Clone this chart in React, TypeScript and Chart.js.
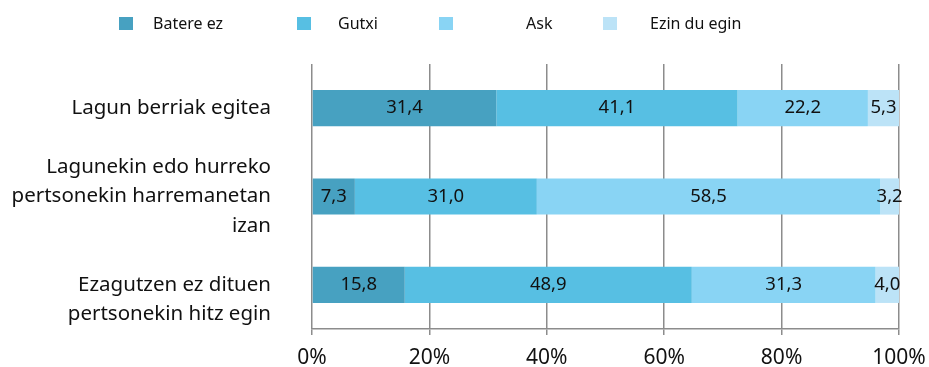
import React, { useEffect, useRef } from "react";
import { Chart, registerables } from "chart.js";

Chart.register(...registerables);

const categories: (string | string[])[] = [
  "Lagun berriak egitea",
  ["Lagunekin edo hurreko", "pertsonekin harremanetan", "izan"],
  ["Ezagutzen ez dituen", "pertsonekin hitz egin"],
];
const seriesNames = ["Batere ez", "Gutxi", "Ask", "Ezin du egin"];
const bateresEz = [31.4, 7.3, 15.8];
const gutxi = [41.1, 31.0, 48.9];
const ask = [22.2, 58.5, 31.3];
const ezinDuEgin = [5.3, 3.2, 4.0];
const colors = ["#47A1C1", "#57BFE3", "#89D4F4", "#BCE3F7"];
const tickValues = [0, 20, 40, 60, 80, 100];

const FONT = "'Noto Sans', 'Liberation Sans', sans-serif";

const dataLabelPlugin = {
  id: "dataLabels",
  afterDatasetsDraw(chart: any) {
    const ctx = chart.ctx;
    ctx.save();
    ctx.font = `18.5px ${FONT}`;
    ctx.fillStyle = "#111";
    ctx.textAlign = "center";
    ctx.textBaseline = "middle";
    chart.data.datasets.forEach((ds: any, di: number) => {
      const meta = chart.getDatasetMeta(di);
      meta.data.forEach((bar: any, i: number) => {
        const v = ds.data[i];
        const cx = (bar.x + bar.base) / 2;
        ctx.fillText(v.toFixed(1).replace(".", ","), cx, bar.y);
      });
    });
    ctx.restore();
  },
};

const legendPos = [
  { box: 119, text: 153 },
  { box: 297, text: 338 },
  { box: 439, text: 526 },
  { box: 603, text: 650 },
];

export default function App() {
  const ref = useRef<HTMLCanvasElement>(null);
  useEffect(() => {
    document.body.style.margin = "0";
    const values = [bateresEz, gutxi, ask, ezinDuEgin];
    const chart = new Chart(ref.current!, {
      type: "bar",
      data: {
        labels: categories,
        datasets: seriesNames.map((n, i) => ({
          label: n,
          data: values[i],
          backgroundColor: colors[i],
          borderWidth: 0,
          categoryPercentage: 1,
          barPercentage: 0.41,
        })),
      },
      options: {
        indexAxis: "y",
        animation: false,
        responsive: false,
        maintainAspectRatio: false,
        layout: { padding: { top: 64, right: 30, bottom: 0, left: 0 } },
        plugins: { legend: { display: false }, tooltip: { enabled: false } },
        scales: {
          x: {
            stacked: true,
            min: 0,
            max: 100,
            afterBuildTicks: (s: any) => {
              s.ticks = tickValues.map((v) => ({ value: v }));
            },
            afterFit: (s: any) => {
              s.height = 38;
              s.paddingLeft = 0;
              s.paddingRight = 0;
            },
            grid: { color: "#8C8C8C", lineWidth: 1.5, tickLength: 6, drawOnChartArea: true },
            border: { display: true, color: "#8C8C8C", width: 1.5 },
            ticks: {
              padding: 10,
              color: "#111",
              font: { family: FONT, size: 21 },
              callback: (v: any) => v + "%",
            },
          },
          y: {
            stacked: true,
            afterFit: (s: any) => {
              s.width = 312;
              s.paddingTop = 0;
              s.paddingBottom = 0;
            },
            grid: { display: false },
            border: { display: false },
            ticks: {
              autoSkip: false,
              padding: 33,
              color: "#111",
              font: { family: FONT, size: 20.5, lineHeight: 1.44 },
              callback: function (this: any, v: any) {
                const l = this.getLabelForValue(v);
                const lines = Array.isArray(categories[v]) ? (categories[v] as string[]) : [l];
                return lines.length === 2 ? ["", ...lines] : lines;
              },
            },
          },
        },
      },
      plugins: [dataLabelPlugin],
    });
    return () => chart.destroy();
  }, []);
  return (
    <div style={{ position: "relative", width: 929, height: 367 }}>
      <canvas ref={ref} width={929} height={367} />
      {seriesNames.map((n, i) => (
        <React.Fragment key={n}>
          <div
            style={{
              position: "absolute",
              left: legendPos[i].box,
              top: 17,
              width: 14,
              height: 13,
              background: colors[i],
            }}
          />
          <div
            style={{
              position: "absolute",
              left: legendPos[i].text,
              top: 12,
              fontFamily: FONT,
              fontSize: 16,
              lineHeight: "22px",
              color: "#111",
              whiteSpace: "nowrap",
            }}
          >
            {n}
          </div>
        </React.Fragment>
      ))}
    </div>
  );
}
